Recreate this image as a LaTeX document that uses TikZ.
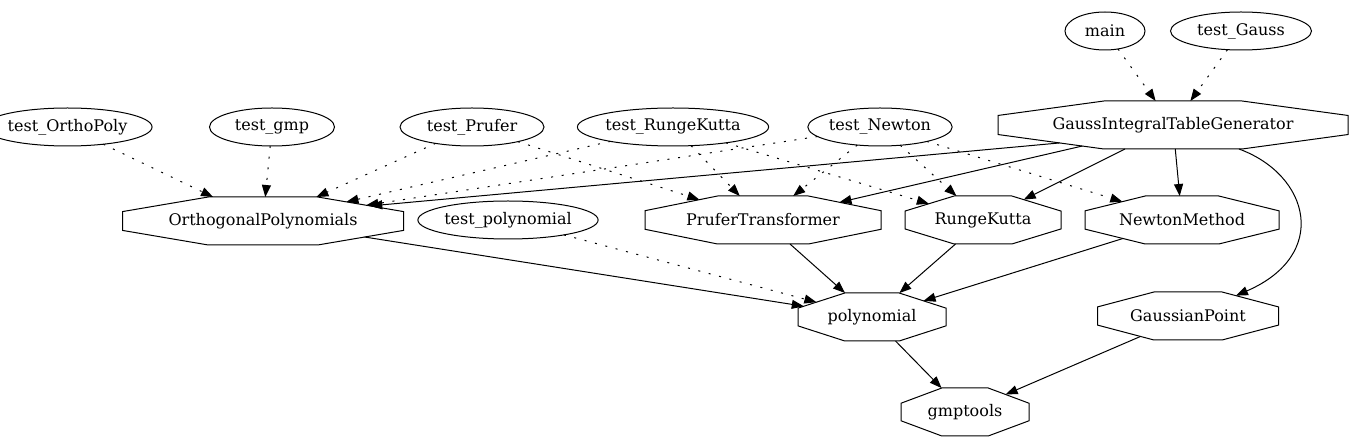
\documentclass[tikz,border=0pt]{standalone}
\usepackage{fontspec}
\setmainfont{DejaVu Serif}
\usetikzlibrary{shapes.misc,shapes.geometric,arrows.meta}
\begin{document}
\begin{tikzpicture}[x=1pt,y=-1pt,
  every node/.style={font=\fontsize{16}{19}\selectfont, inner sep=0pt, outer sep=0pt, line width=1pt},
  ell/.style={draw, ellipse, minimum height=38pt, minimum width=#1},
  oct/.style 2 args={draw, chamfered rectangle, minimum width=#1, minimum height=48pt,
     chamfered rectangle angle=#2, chamfered rectangle ysep=14pt},
  dep/.style={-{Triangle[length=12pt,width=9pt]}, line width=1pt, dash pattern=on 2pt off 8.7pt},
  use/.style={-{Triangle[length=12pt,width=9pt]}, line width=1pt}]
\useasboundingbox (0,0) rectangle (1353,443);
% ellipses
\node[ell=80pt]  (main)   at (1105,31) {main};
\node[ell=141pt] (tgauss) at (1241,31) {test\_Gauss};
\node[ell=127pt] (tortho) at (67.5,127)  {test\_OrthoPoly};
\node[ell=125pt] (tgmp)   at (272,127) {test\_gmp};
\node[ell=144pt] (tpruf)  at (472,127) {test\_Prufer};
\node[ell=170pt] (trk)    at (673,127) {test\_RungeKutta};
\node[ell=130pt] (tnewt)  at (880,127) {test\_Newton};
\node[ell=161pt] (tpoly)  at (508,220) {test\_polynomial};
% octagons
\node[oct={350pt}{82.22}] (gitg) at (1173,125) {GaussIntegralTableGenerator};
\node[oct={281pt}{80.35}] (op)   at (263,221)  {OrthogonalPolynomials};
\node[oct={236pt}{78.55}] (pt)   at (763,220)  {PruferTransformer};
\node[oct={156pt}{72.97}] (rk)   at (983,220)  {RungeKutta};
\node[oct={194pt}{76.15}] (nm)   at (1182,220) {NewtonMethod};
\node[oct={148pt}{72.12}] (poly) at (872,317)  {polynomial};
\node[oct={181pt}{75.2}]  (gp)   at (1188,316) {GaussianPoint};
\node[oct={128pt}{69.53}] (gmpt) at (965,412)  {gmptools};
% dotted edges
\draw[dep] (main) -- (gitg);
\draw[dep] (tgauss) -- (gitg);
\draw[dep] (tortho) -- (op);
\draw[dep] (tgmp) -- (op);
\draw[dep] (tpruf) -- (op);
\draw[dep] (tpruf) -- (pt);
\draw[dep] (trk) -- (op);
\draw[dep] (trk) -- (pt);
\draw[dep] (trk) -- (rk);
\draw[dep] (tnewt) -- (op);
\draw[dep] (tnewt) -- (pt);
\draw[dep] (tnewt) -- (rk);
\draw[dep] (tnewt) -- (nm);
\draw[dep] (tpoly) -- (poly);
% solid edges
\draw[use] (gitg.189) -- (op.8.7);
\draw[use] (gitg) -- (pt);
\draw[use] (gitg) -- (rk);
\draw[use] (gitg) -- (nm);
\draw[use] (gitg.-20) .. controls (1310,175) and (1330,255) .. (gp.23);
\draw[use] (op) -- (poly);
\draw[use] (pt) -- (poly);
\draw[use] (rk) -- (poly);
\draw[use] (nm) -- (poly);
\draw[use] (poly) -- (gmpt);
\draw[use] (gp) -- (gmpt);
\end{tikzpicture}
\end{document}
